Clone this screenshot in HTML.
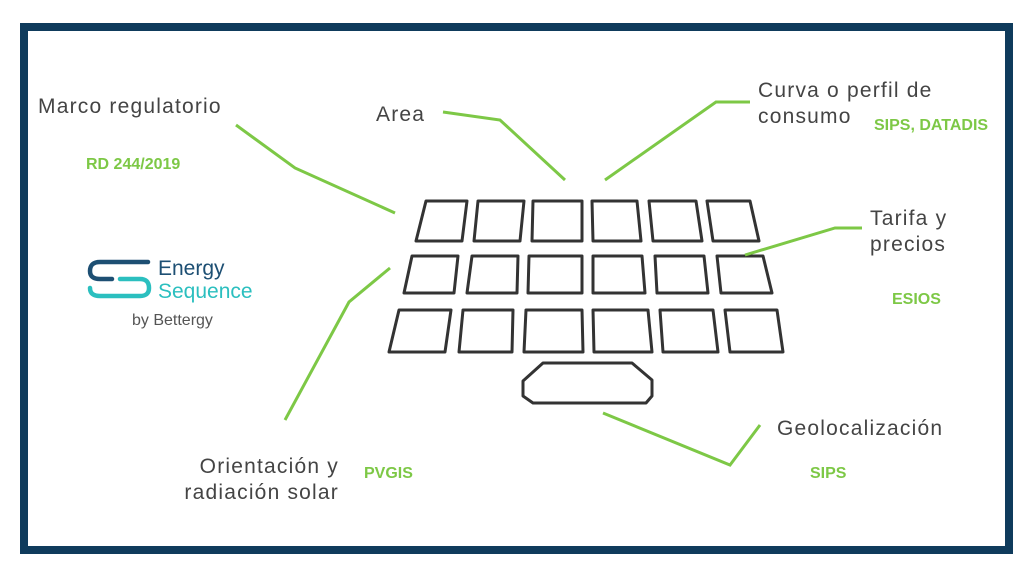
<!DOCTYPE html>
<html><head><meta charset="utf-8"><style>
body{margin:0;width:1024px;height:576px;background:#fff;position:relative;overflow:hidden;font-family:"Liberation Sans",sans-serif}
.frame{position:absolute;left:20px;top:23px;width:977px;height:515px;border:8px solid #0f3b5c}
.t{position:absolute;color:#444;font-size:21px;line-height:26px;letter-spacing:1.2px}
.g{position:absolute;color:#7dc846;font-size:16px;font-weight:bold}
</style></head><body>
<div class="frame"></div>
<svg width="1024" height="576" style="position:absolute;left:0;top:0">
<g fill="none" stroke="#333" stroke-width="3" stroke-linejoin="round">
<polygon points="426,201 467,201 462,241 416,241"/>
<polygon points="478,201 524,201 520,241 474,241"/>
<polygon points="533,201 582,201 582,241 532,241"/>
<polygon points="592,201 637,201 641,241 593,241"/>
<polygon points="649,201 696,201 702,241 653,241"/>
<polygon points="707,201 750,201 759,241 713,241"/>
<polygon points="412,256 458,256 454,293 404,293"/>
<polygon points="472,256 518,256 517,293 467,293"/>
<polygon points="529,256 582,256 582,293 528,293"/>
<polygon points="593,256 642,256 645,293 593,293"/>
<polygon points="655,256 704,256 708,293 657,293"/>
<polygon points="717,256 763,256 772,293 721,293"/>
<polygon points="399,310 451,310 445,352 389,352"/>
<polygon points="463,310 513,310 512,352 459,352"/>
<polygon points="526,310 582,310 583,352 524,352"/>
<polygon points="593,310 648,310 652,352 594,352"/>
<polygon points="660,310 713,310 718,352 663,352"/>
<polygon points="725,310 777,310 783,352 730,352"/>
<polygon points="543,363 632,363 652,380 652,396 646,403 533,403 523,396 523,381"/>
</g>
<g fill="none" stroke="#7dc846" stroke-width="3">
<polyline points="236,125 295,168 395,213"/>
<polyline points="443,112 500,120 565,180"/>
<polyline points="605,180 716,102 750,102"/>
<polyline points="745,255 835,228 862,228"/>
<polyline points="285,420 349,302 390,268"/>
<polyline points="603,413 730,465 760,425"/>
</g>
<g fill="none" stroke-width="4.5" stroke-linecap="round">
<path d="M148,262 H100 Q90,262 90,271 Q90,279 100,279 H112" stroke="#1d4f73"/>
<path d="M120,279 H140 Q149,279 149,288 Q149,296 140,296 H100 Q90,296 90,288" stroke="#2bbfbf"/>
</g>
</svg>
<div class="t" style="left:38px;top:94px">Marco regulatorio</div>
<div class="g" style="left:86px;top:156px">RD 244/2019</div>
<div class="t" style="left:376px;top:102px">Area</div>
<div class="t" style="left:758px;top:78px">Curva o perfil de<br>consumo</div>
<div class="g" style="left:874px;top:117px">SIPS, DATADIS</div>
<div class="t" style="left:870px;top:206px">Tarifa y<br>precios</div>
<div class="g" style="left:892px;top:291px">ESIOS</div>
<div class="t" style="left:777px;top:416px">Geolocalización</div>
<div class="g" style="left:810px;top:465px">SIPS</div>
<div class="t" style="left:150px;top:454px;text-align:right;width:189px">Orientación y<br>radiación solar</div>
<div class="g" style="left:364px;top:465px">PVGIS</div>
<div style="position:absolute;left:158px;top:257px;color:#1d4f73;font-size:21px;line-height:23px">Energy</div>
<div style="position:absolute;left:158px;top:280px;color:#2bbfbf;font-size:21px;line-height:23px">Sequence</div>
<div style="position:absolute;left:132px;top:312px;color:#555;font-size:16px">by Bettergy</div>
</body></html>
